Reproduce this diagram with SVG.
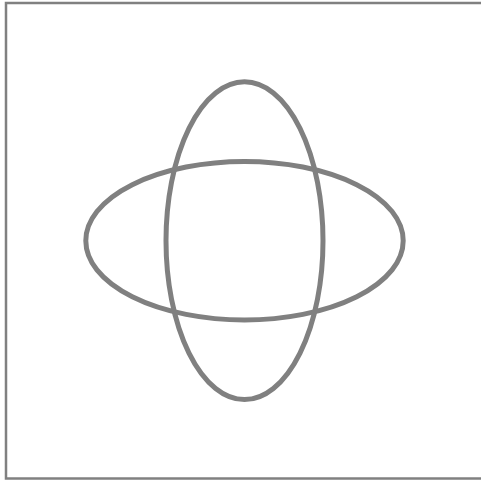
<svg xmlns="http://www.w3.org/2000/svg" width="481" height="482" viewBox="0 0 481 482">
<style>
.e{fill:none;stroke:#808080;stroke-width:5}
.frame{fill:none;stroke:#808080;stroke-width:2.5}
</style>
<rect width="481" height="482" fill="#ffffff"/>
<rect class="frame" x="6" y="3" width="480" height="475.5"/>
<g id="ellipse-horizontal"><ellipse class="e" cx="244.5" cy="240.7" rx="158.7" ry="79.2"/></g>
<g id="ellipse-vertical"><ellipse class="e" cx="244.5" cy="240.7" rx="78.5" ry="158.9"/></g>
</svg>
